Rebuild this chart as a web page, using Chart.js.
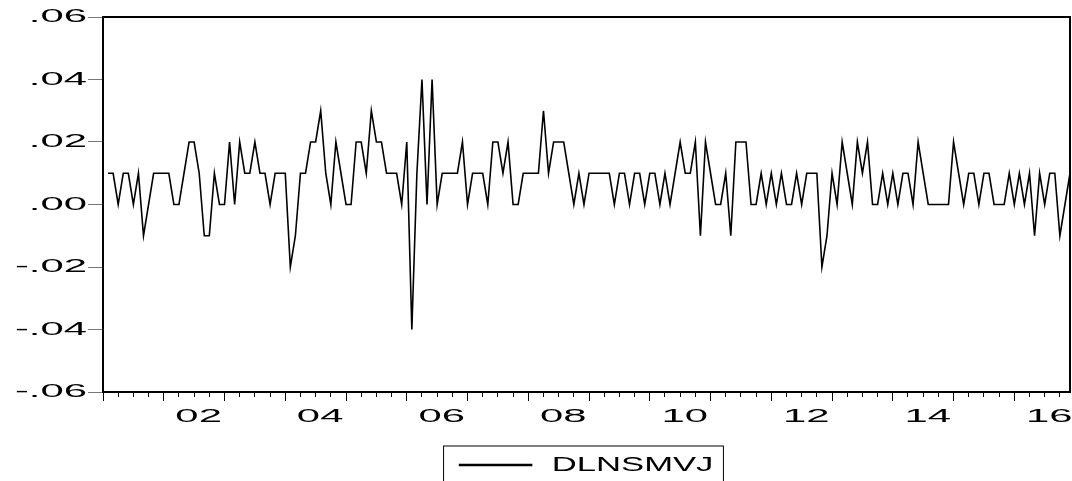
<!DOCTYPE html>
<html lang="en">
<head>
    <meta charset="UTF-8">
    <title>DLNSMVJ</title>
    <script src="https://cdn.jsdelivr.net/npm/chart.js"></script>
    <style>
        body {
            margin: 0;
            background-color: white;
            overflow: hidden;
        }
    </style>
</head>
<body>
    <!-- a bit taller than the window: the legend box runs off the bottom like in EViews -->
    <canvas id="chart" width="1072" height="490"></canvas>

    <script>
        // monthly sample 2001M01 - 2016M12
        const firstYear = 2001;
        const lastYear = 2016;
        const months = [];
        for (let y = firstYear; y <= lastYear; y++) {
            for (let m = 1; m <= 12; m++) {
                months.push(y + 'M' + String(m).padStart(2, '0'));
            }
        }

        // first difference of log, first obs is NA
        const dlnsmvj = [
            null, 0.01, 0.01, 0, 0.01, 0.01, 0, 0.01, -0.01, 0, 0.01, 0.01,          // 2001
            0.01, 0.01, 0, 0, 0.01, 0.02, 0.02, 0.01, -0.01, -0.01, 0.01, 0,          // 2002
            0, 0.02, 0, 0.02, 0.01, 0.01, 0.02, 0.01, 0.01, 0, 0.01, 0.01,            // 2003
            0.01, -0.02, -0.01, 0.01, 0.01, 0.02, 0.02, 0.03, 0.01, 0, 0.02, 0.01,    // 2004
            0, 0, 0.02, 0.02, 0.01, 0.03, 0.02, 0.02, 0.01, 0.01, 0.01, 0,            // 2005
            0.02, -0.04, 0.01, 0.04, 0, 0.04, 0, 0.01, 0.01, 0.01, 0.01, 0.02,        // 2006
            0, 0.01, 0.01, 0.01, 0, 0.02, 0.02, 0.01, 0.02, 0, 0, 0.01,               // 2007
            0.01, 0.01, 0.01, 0.03, 0.01, 0.02, 0.02, 0.02, 0.01, 0, 0.01, 0,         // 2008
            0.01, 0.01, 0.01, 0.01, 0.01, 0, 0.01, 0.01, 0, 0.01, 0.01, 0,            // 2009
            0.01, 0.01, 0, 0.01, 0, 0.01, 0.02, 0.01, 0.01, 0.02, -0.01, 0.02,        // 2010
            0.01, 0, 0, 0.01, -0.01, 0.02, 0.02, 0.02, 0, 0, 0.01, 0,                 // 2011
            0.01, 0, 0.01, 0, 0, 0.01, 0, 0.01, 0.01, 0.01, -0.02, -0.01,             // 2012
            0.01, 0, 0.02, 0.01, 0, 0.02, 0.01, 0.02, 0, 0, 0.01, 0,                  // 2013
            0.01, 0, 0.01, 0.01, 0, 0.02, 0.01, 0, 0, 0, 0, 0,                        // 2014
            0.02, 0.01, 0, 0.01, 0.01, 0, 0.01, 0.01, 0, 0, 0, 0.01,                  // 2015
            0, 0.01, 0, 0.01, -0.01, 0.01, 0, 0.01, 0.01, -0.01, 0, 0.01              // 2016
        ];

        const yTicks = [-0.06, -0.04, -0.02, 0, 0.02, 0.04, 0.06];

        const canvas = document.getElementById('chart');
        const ctx = canvas.getContext('2d');

        // EViews draws its text stretched sideways, so widen every label
        const rawFillText = ctx.fillText.bind(ctx);
        const rawMeasureText = ctx.measureText.bind(ctx);
        function stretch() {
            const size = parseFloat(/([\d.]+)px/.exec(ctx.font)[1]);
            return size > 20 ? 1.65 : 2.25;
        }
        ctx.fillText = function (text, x, y) {
            const sx = stretch();
            ctx.save();
            ctx.translate(x, y);
            ctx.scale(sx, 1);
            rawFillText(text, 0, 0);
            ctx.restore();
        };
        ctx.measureText = function (text) {
            const m = rawMeasureText(text);
            return {
                width: m.width * stretch(),
                actualBoundingBoxAscent: m.actualBoundingBoxAscent,
                actualBoundingBoxDescent: m.actualBoundingBoxDescent,
                actualBoundingBoxLeft: m.actualBoundingBoxLeft,
                actualBoundingBoxRight: m.actualBoundingBoxRight
            };
        };

        // box round the plot and round the legend
        const framePlugin = {
            id: 'frame',
            afterDraw(chart) {
                const c = chart.ctx;
                const a = chart.chartArea;
                c.save();
                c.strokeStyle = '#000';
                c.lineWidth = 2;
                c.strokeRect(a.left, a.top, a.right - a.left, a.bottom - a.top);
                const hb = chart.legend.legendHitBoxes[0];
                if (hb) {
                    const mid = hb.top + hb.height / 2;
                    c.lineWidth = 1;
                    c.strokeRect(hb.left - 16, mid - 19, hb.width + 26, 60);
                }
                c.restore();
            }
        };

        const font = { family: "'Liberation Sans', Arial, sans-serif", size: 18.6 };

        new Chart(ctx, {
            type: 'line',
            data: {
                labels: months,
                datasets: [{
                    label: 'DLNSMVJ',
                    data: dlnsmvj,
                    borderColor: '#000',
                    backgroundColor: '#000',
                    borderWidth: 1.6,
                    pointRadius: 0,
                    tension: 0
                }]
            },
            options: {
                responsive: false,
                animation: false,
                layout: {
                    padding: { top: 17, right: 2, bottom: 4.5, left: 0 }
                },
                plugins: {
                    tooltip: { enabled: false },
                    legend: {
                        position: 'bottom',
                        fullSize: false,
                        labels: {
                            font: { family: font.family, size: 21 },
                            color: '#000',
                            boxWidth: 72,
                            boxHeight: 1,
                            padding: 1,
                            // wider gap between the line sample and the name
                            generateLabels: (chart) => Chart.defaults.plugins.legend.labels.generateLabels(chart)
                                .map(item => Object.assign(item, { text: ' ' + item.text }))
                        }
                    }
                },
                scales: {
                    x: {
                        type: 'category',
                        offset: false,
                        afterBuildTicks: (scale) => {
                            scale.ticks = scale.ticks.filter(t => t.value % 3 === 0);
                        },
                        afterFit: (scale) => { scale.height = 61.5; },
                        border: { display: true, color: '#000', width: 2 },
                        grid: {
                            drawOnChartArea: false,
                            tickLength: 9,
                            tickColor: '#000',
                            tickWidth: 1,
                            tickBorderDash: (c) => (c.tick && c.tick.value % 12 === 0) ? [] : [4, 30]
                        },
                        ticks: {
                            autoSkip: false,
                            maxRotation: 0,
                            minRotation: 0,
                            padding: 5,
                            labelOffset: 4.5,
                            color: '#000',
                            font: font,
                            callback: function (value) {
                                const lab = this.getLabelForValue(value);
                                const year = parseInt(lab.slice(0, 4), 10);
                                return (lab.endsWith('M07') && year % 2 === 0) ? lab.slice(2, 4) : '';
                            }
                        }
                    },
                    y: {
                        min: -0.06,
                        max: 0.06,
                        afterBuildTicks: (scale) => {
                            scale.ticks = yTicks.map(v => ({ value: v }));
                        },
                        afterFit: (scale) => { scale.width = 103; },
                        border: { display: true, color: '#000', width: 2 },
                        grid: {
                            drawOnChartArea: false,
                            tickLength: 15,
                            tickColor: '#777',
                            tickWidth: 1
                        },
                        ticks: {
                            padding: 1,
                            color: '#000',
                            font: font,
                            callback: (v) => (v < -1e-9 ? '-' : '') + Math.abs(v).toFixed(2).slice(1)
                        }
                    }
                }
            },
            plugins: [framePlugin]
        });
    </script>
</body>
</html>
